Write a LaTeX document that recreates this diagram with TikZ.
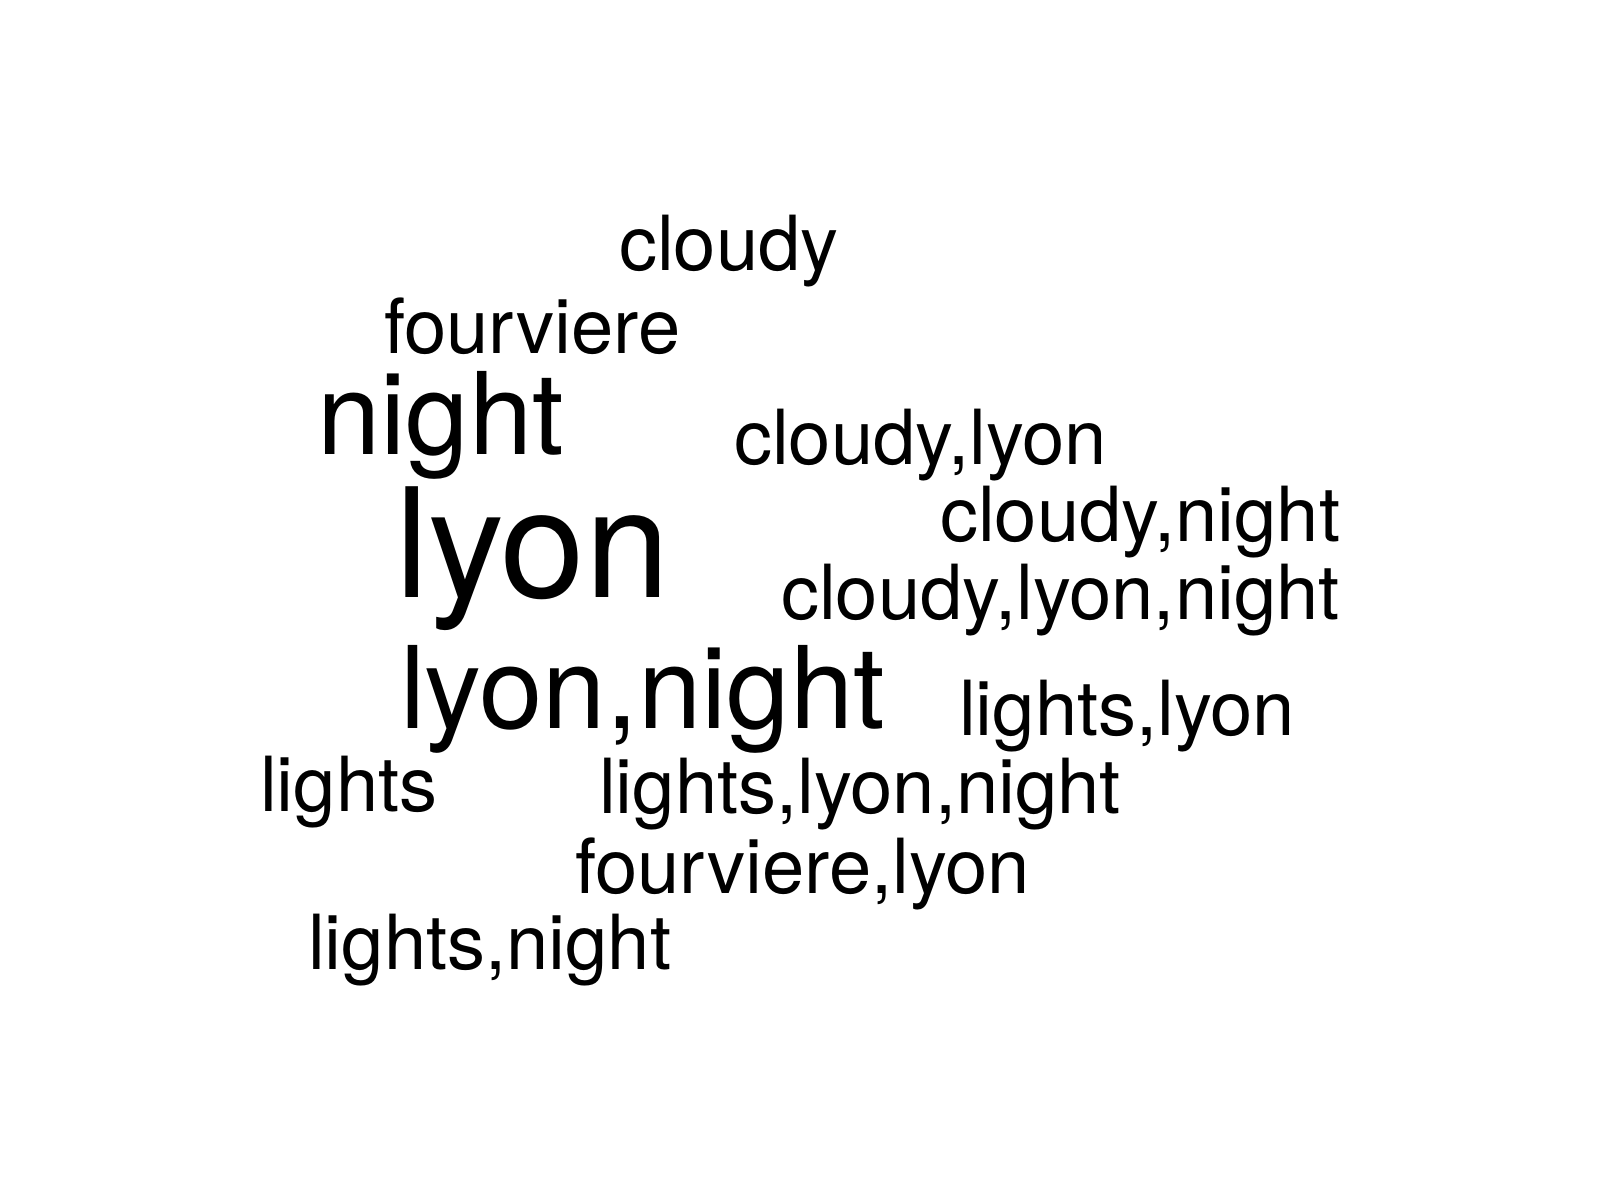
\documentclass[tikz,border=0pt]{standalone}
\usepackage{fontspec}
\setmainfont{TeX Gyre Heros}
\begin{document}
\begin{tikzpicture}[x=1pt,y=-1pt,
  word/.style={anchor=base west,inner sep=0pt,outer sep=0pt},
  sm/.style={word,font=\fontsize{76}{80}\selectfont},
  md/.style={word,font=\fontsize{114}{120}\selectfont},
  lg/.style={word,font=\fontsize{152}{160}\selectfont}]
\useasboundingbox (0,0) rectangle (1600,1200);
\node[sm] (w1) at (619,270) {cloudy};
\node[sm] (w2) at (384,353) {fourviere};
\node[md] (w3) at (317,454) {night};
\node[sm] (w4) at (734,464) {cloudy,lyon};
\node[sm] (w5) at (940,541) {cloudy,night};
\node[lg] (w6) at (395,597) {lyon};
\node[sm] (w7) at (781,619) {cloudy,lyon,night};
\node[md] (w8) at (400,728) {lyon,night};
\node[sm] (w9) at (959,735) {lights,lyon};
\node[sm] (w10) at (260,811) {lights};
\node[sm] (w11) at (599,813) {lights,lyon,night};
\node[sm] (w12) at (575,893) {fourviere,lyon};
\node[sm] (w13) at (308,969) {lights,night};
\end{tikzpicture}
\end{document}
